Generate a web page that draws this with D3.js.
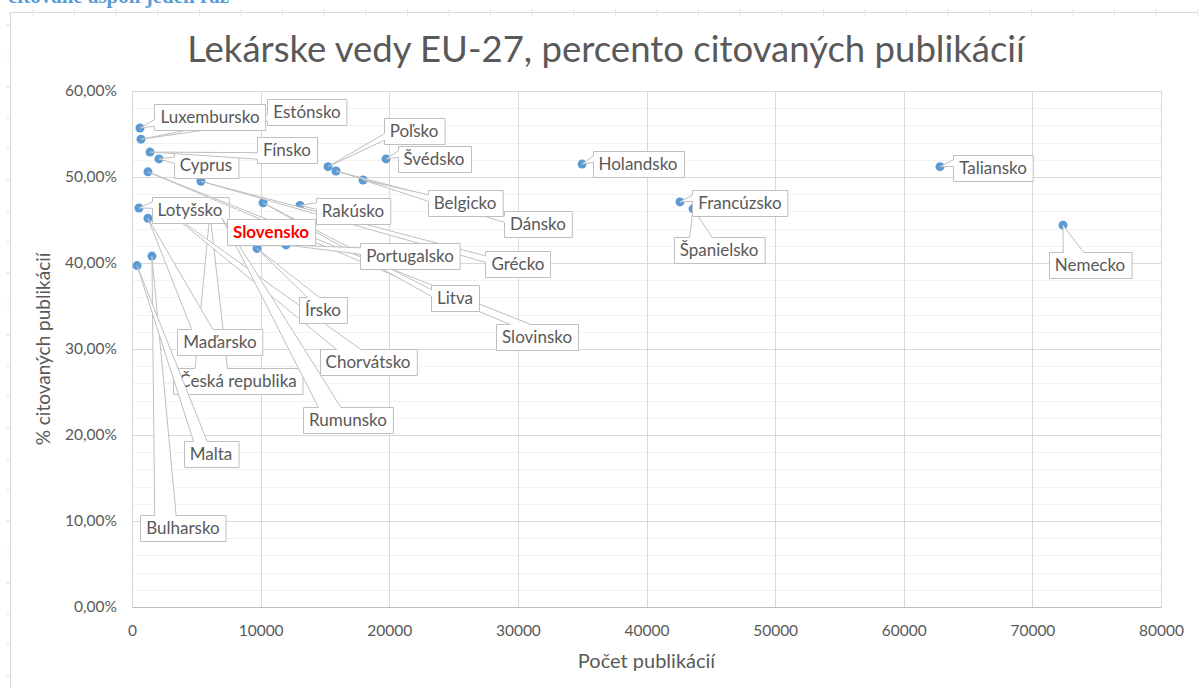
<!DOCTYPE html>
<html>
<head>
<meta charset="utf-8">
<script src="https://cdn.jsdelivr.net/npm/d3@7"></script>
<style>
  body { margin: 0; background: #fff; }
  svg { display: block; }
</style>
</head>
<body>
<script>
// Countries in the order the callouts are drawn
var countries = ["Bulharsko", "Česká republika", "Dánsko", "Belgicko", "Nemecko", "Estónsko",
  "Grécko", "Španielsko", "Francúzsko", "Chorvátsko", "Taliansko", "Cyprus", "Lotyšsko",
  "Luxembursko", "Maďarsko", "Malta", "Holandsko", "Rakúsko", "Poľsko", "Rumunsko",
  "Slovinsko", "Litva", "Írsko", "Portugalsko", "Slovensko", "Fínsko", "Švédsko"];

// Number of publications
var publications = [1550, 6060, 15860, 17960, 72380, 700,
  5360, 43620, 42600, 2800, 62820, 2100, 540,
  620, 1240, 390, 34990, 13060, 15240, 7000,
  1240, 10190, 9720, 11970, 9800, 1400, 19750];

// Share of cited publications (%)
var citedShare = [40.8, 45.8, 50.7, 49.65, 44.4, 54.4,
  49.5, 46.3, 47.1, 46.0, 51.2, 52.1, 46.4,
  55.7, 45.2, 39.7, 51.5, 46.7, 51.2, 45.2,
  50.6, 47.0, 41.7, 42.1, 43.5, 52.9, 52.1];

// Where the data callouts sit (centre, in data units)
var labelPub = [3965, 8240, 31565, 25890, 74480, 13605,
  30010, 45640, 47270, 18350, 66940, 5750, 4510,
  6065, 6840, 6140, 39340, 17180, 21925, 16790,
  31490, 25110, 14850, 21615, 10810, 12050, 23480];
var labelShare = [9.2, 26.3, 44.5, 47.0, 39.77, 57.56,
  39.9, 41.5, 47.0, 28.5, 51.05, 51.4, 46.2,
  56.98, 30.8, 17.8, 51.5, 46.05, 55.35, 21.7,
  31.4, 35.9, 34.5, 40.8, 43.65, 53.14, 52.1];

var highlight = "Slovensko";

var xTicks = [0, 10000, 20000, 30000, 40000, 50000, 60000, 70000, 80000];
var yTicks = [0, 10, 20, 30, 40, 50, 60];
var yMinorTicks = d3.range(0, 61, 2);

var svgWidth = 1198;
var svgHeight = 688;

var margin = { top: 91, right: 37, bottom: 81, left: 132 };
var chartWidth = svgWidth - margin.left - margin.right;
var chartHeight = svgHeight - margin.top - margin.bottom;

var svg = d3.select("body")
  .append("svg")
  .attr("width", svgWidth)
  .attr("height", svgHeight);

// bit of the document text above the chart, cut off by the screenshot
svg.append("text")
  .attr("x", 8)
  .attr("y", 3)
  .attr("font-family", "Liberation Serif")
  .attr("font-weight", "bold")
  .attr("font-size", 21)
  .attr("fill", "#5b9bd5")
  .text("citované aspoň jeden raz");

// chart frame
svg.append("rect")
  .attr("x", 10.5)
  .attr("y", 12.5)
  .attr("width", 1200)
  .attr("height", 700)
  .attr("fill", "#fff")
  .attr("stroke", "#d9d9d9");

// little ruler marks on the frame
svg.append("g").selectAll("line")
  .data(d3.range(33, 1198, 41.6))
  .join("line")
  .attr("x1", d => d).attr("x2", d => d)
  .attr("y1", 9).attr("y2", 16)
  .attr("stroke", "#e3e3e3");
svg.append("g").selectAll("line")
  .data(d3.range(25, 688, 31))
  .join("line")
  .attr("x1", 6).attr("x2", 10)
  .attr("y1", d => d).attr("y2", d => d)
  .attr("stroke", "#e3e3e3");

var chartGroup = svg.append("g")
  .attr("transform", `translate(${margin.left}, ${margin.top})`);

var xLinearScale = d3.scaleLinear()
  .range([0, chartWidth])
  .domain([0, 80000]);

var yLinearScale = d3.scaleLinear()
  .range([chartHeight, 0])
  .domain([0, 60]);

// minor gridlines
chartGroup.append("g")
  .selectAll("line")
  .data(yMinorTicks)
  .join("line")
  .attr("x1", 0).attr("x2", chartWidth)
  .attr("y1", d => Math.round(yLinearScale(d)) + 0.5)
  .attr("y2", d => Math.round(yLinearScale(d)) + 0.5)
  .attr("stroke", "#f2f2f2");

// major gridlines
chartGroup.append("g")
  .selectAll("line")
  .data(yTicks)
  .join("line")
  .attr("x1", 0).attr("x2", chartWidth)
  .attr("y1", d => Math.round(yLinearScale(d)) + 0.5)
  .attr("y2", d => Math.round(yLinearScale(d)) + 0.5)
  .attr("stroke", "#d9d9d9");

chartGroup.append("g")
  .selectAll("line")
  .data(xTicks)
  .join("line")
  .attr("x1", d => Math.round(xLinearScale(d)) + 0.5)
  .attr("x2", d => Math.round(xLinearScale(d)) + 0.5)
  .attr("y1", 0).attr("y2", chartHeight)
  .attr("stroke", "#d9d9d9");

// axes
var bottomAxis = d3.axisBottom(xLinearScale)
  .tickValues(xTicks)
  .tickSize(0)
  .tickPadding(18)
  .tickFormat(d3.format("d"));

var leftAxis = d3.axisLeft(yLinearScale)
  .tickValues(yTicks)
  .tickSize(0)
  .tickPadding(15)
  .tickFormat(d => d3.format(".2f")(d).replace(".", ",") + "%");

var xAxisG = chartGroup.append("g")
  .attr("transform", "translate(0, " + chartHeight + ")")
  .call(bottomAxis);
xAxisG.select(".domain").attr("stroke", "#bfbfbf");

var yAxisG = chartGroup.append("g")
  .call(leftAxis);
yAxisG.select(".domain").remove();

chartGroup.selectAll(".tick text")
  .attr("font-family", "Lato")
  .attr("font-size", 15.5)
  .attr("fill", "#595959");

// points
var points = countries.map(function(name, i) {
  return {
    name: name,
    x: xLinearScale(publications[i]),
    y: yLinearScale(citedShare[i]),
    lx: xLinearScale(labelPub[i]),
    ly: yLinearScale(labelShare[i])
  };
});

chartGroup.append("g")
  .selectAll("circle")
  .data(points)
  .join("circle")
  .attr("cx", d => d.x)
  .attr("cy", d => d.y)
  .attr("r", 4.5)
  .attr("fill", "#5b9bd5");

// wedge-rectangle callouts, like the Excel data callouts
function calloutPath(l, t, w, h, px, py) {
  var r = l + w, b = t + h;
  var dx = px - (l + w / 2), dy = py - (t + h / 2);
  if (px > l && px < r && py > t && py < b) {
    return `M${l},${t}H${r}V${b}H${l}Z`;
  }
  var x1 = l + w * (dx < 0 ? 2 : 7) / 12, x2 = l + w * (dx < 0 ? 5 : 10) / 12;
  var y1 = t + h * (dy < 0 ? 2 : 7) / 12, y2 = t + h * (dy < 0 ? 5 : 10) / 12;
  if (Math.abs(dx) / w > Math.abs(dy) / h) {
    if (dx < 0) return `M${l},${t}H${r}V${b}H${l}V${y2}L${px},${py}L${l},${y1}Z`;
    return `M${l},${t}H${r}V${y1}L${px},${py}L${r},${y2}V${b}H${l}Z`;
  }
  if (dy < 0) return `M${l},${t}H${x1}L${px},${py}L${x2},${t}H${r}V${b}H${l}Z`;
  return `M${l},${t}H${r}V${b}H${x2}L${px},${py}L${x1},${b}H${l}Z`;
}

var labelGroup = chartGroup.append("g");

points.forEach(function(d) {
  var g = labelGroup.append("g");
  var path = g.append("path");
  var text = g.append("text")
    .attr("x", d.lx)
    .attr("y", d.ly)
    .attr("dy", "0.35em")
    .attr("text-anchor", "middle")
    .attr("font-family", "Lato")
    .attr("font-size", 17)
    .attr("font-weight", d.name === highlight ? "bold" : "normal")
    .attr("fill", d.name === highlight ? "#ff0000" : "#595959")
    .text(d.name);
  var w = text.node().getComputedTextLength() + 12;
  var h = 26;
  var l = Math.round(d.lx - w / 2) + 0.5, t = Math.round(d.ly - h / 2) + 0.5;
  path.attr("d", calloutPath(l, t, w, h, d.x, d.y))
    .attr("fill", "#fff")
    .attr("stroke", "#bfbfbf")
    .attr("stroke-width", 1);
});

// title and axis titles
svg.append("text")
  .attr("x", 606)
  .attr("y", 62)
  .attr("text-anchor", "middle")
  .attr("font-family", "Lato")
  .attr("font-size", 36.5)
  .attr("fill", "#595959")
  .text("Lekárske vedy EU-27, percento citovaných publikácií");

svg.append("text")
  .attr("x", margin.left + chartWidth / 2)
  .attr("y", 668)
  .attr("text-anchor", "middle")
  .attr("font-family", "Lato")
  .attr("font-size", 20)
  .attr("fill", "#595959")
  .text("Počet publikácií");

svg.append("text")
  .attr("transform", "translate(50, " + (margin.top + chartHeight / 2) + ") rotate(-90)")
  .attr("text-anchor", "middle")
  .attr("font-family", "Lato")
  .attr("font-size", 19)
  .attr("fill", "#595959")
  .text("% citovaných publikácií");
</script>
</body>
</html>
